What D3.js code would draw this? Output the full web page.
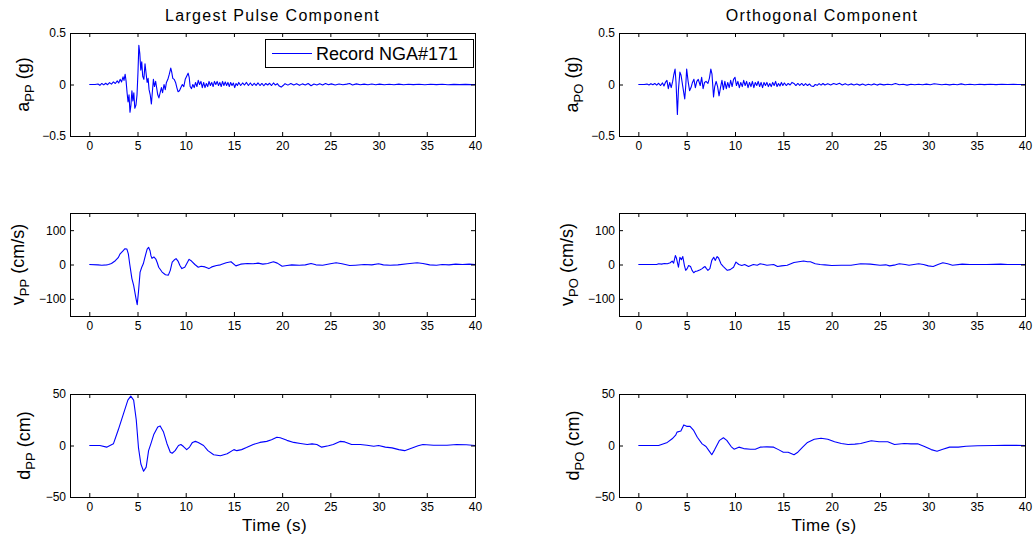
<!DOCTYPE html>
<html>
<head>
<meta charset="utf-8">
<script src="https://cdn.jsdelivr.net/npm/d3@7"></script>
<style>
  body { margin: 0; background: #fff; }
  svg { display: block; }
  text { font-family: "Liberation Sans", Arial, Helvetica, sans-serif; fill: #000; }
</style>
</head>
<body>
<script>
// time histories: [time (s), value]
const accPP = [
  [0,0],[0.6,0],[0.9,0.005],[1.1,-0.008],[1.3,0.01],[1.5,-0.004],[1.7,0.012],[1.9,-0.002],[2.1,0.018],[2.3,0.004],
  [2.5,0.025],[2.7,0.01],[2.9,0.035],[3.05,0.015],[3.2,0.05],[3.35,0.025],[3.5,0.075],[3.6,0.04],[3.72,0.1],[3.82,0.03],
  [3.92,-0.08],[4.02,-0.17],[4.12,-0.1],[4.22,-0.27],[4.32,-0.2],[4.42,-0.06],[4.52,-0.16],[4.62,-0.08],[4.72,-0.23],[4.84,-0.2],
  [4.95,-0.1],[5.05,0.12],[5.14,0.38],[5.24,0.3],[5.34,0.14],[5.44,0.22],[5.54,0.08],[5.66,0.05],[5.78,0.2],[5.9,0.1],
  [6.0,0.02],[6.1,0.06],[6.2,-0.05],[6.32,-0.1],[6.44,-0.19],[6.55,-0.06],[6.65,0.05],[6.76,-0.02],[6.88,0.03],[7.0,-0.04],
  [7.1,-0.1],[7.22,-0.13],[7.35,-0.08],[7.48,-0.03],[7.6,-0.08],[7.75,0.0],[7.88,-0.05],[8.0,0.02],[8.15,0.05],[8.3,0.1],
  [8.45,0.16],[8.55,0.12],[8.66,0.06],[8.8,0.05],[8.95,0.02],[9.08,-0.03],[9.2,-0.07],[9.35,-0.06],[9.5,-0.03],[9.65,0.0],
  [9.8,-0.02],[9.95,0.05],[10.1,0.08],[10.25,0.11],[10.36,0.07],[10.46,-0.02],[10.6,-0.04],[10.74,0.0],[10.88,-0.03],[11.02,0.02],
  [11.16,-0.02],[11.3,0.04],[11.44,0.0],[11.58,0.03],[11.72,-0.03],[11.86,0.02],[12.0,-0.03],[12.14,0.01],[12.28,-0.02],[12.42,0.03],
  [12.56,-0.01],[12.7,0.02],[12.84,-0.02],[12.98,0.03],[13.12,0.0],[13.26,0.03],[13.4,-0.01],[13.54,0.02],[13.68,-0.02],[13.82,0.03],
  [13.96,-0.01],[14.1,0.025],[14.24,-0.01],[14.38,0.02],[14.52,-0.02],[14.66,0.02],[14.8,-0.01],[14.94,0.015],[15.08,-0.03],[15.22,0.01],
  [15.36,-0.01],[15.5,0.02],[15.7,-0.01],[15.9,0.015],[16.1,-0.005],[16.3,0.02],[16.5,-0.01],[16.7,0.015],[16.9,-0.01],[17.1,0.012],
  [17.3,-0.008],[17.5,0.015],[17.7,-0.01],[17.9,0.01],[18.1,-0.012],[18.3,0.01],[18.5,-0.005],[18.7,0.012],[18.9,-0.01],[19.1,0.015],
  [19.3,-0.005],[19.5,0.008],[19.7,-0.015],[19.9,-0.025],[20.1,-0.01],[20.3,0.008],[20.6,-0.006],[20.9,0.01],[21.2,-0.005],[21.5,0.008],
  [21.8,-0.008],[22.1,0.006],[22.4,-0.005],[22.7,0.01],[23.0,-0.012],[23.3,0.004],[23.6,-0.005],[23.9,0.008],[24.2,-0.004],[24.5,0.01],
  [24.8,-0.003],[25.1,0.006],[25.5,-0.004],[25.9,0.005],[26.3,-0.003],[26.7,0.004],[27.0,0.01],[27.3,-0.004],[27.7,0.006],[28.1,-0.003],
  [28.5,0.004],[28.9,-0.002],[29.3,0.005],[29.7,-0.002],[30.1,0.004],[30.6,-0.002],[31.1,0.003],[31.6,-0.002],[32.1,0.004],[32.6,-0.002],
  [33.1,0.003],[33.6,-0.001],[34.2,0.003],[34.8,-0.002],[35.4,0.002],[36.0,-0.001],[36.6,0.002],[37.2,-0.002],[37.8,0.001],[38.4,-0.001],
  [39.0,0.001],[39.6,-0.001],[40,0]
];
const accPO = [
  [0,0],[0.6,0],[0.9,0.004],[1.1,-0.004],[1.3,0.008],[1.5,-0.003],[1.7,0.01],[1.9,-0.006],[2.1,0.012],[2.3,-0.01],
  [2.5,0.015],[2.65,-0.015],[2.8,0.02],[2.96,0.04],[3.1,-0.04],[3.25,0.02],[3.4,-0.03],[3.55,0.03],[3.66,0.09],[3.8,0.15],
  [3.9,0.02],[4.04,-0.29],[4.15,-0.05],[4.3,0.12],[4.42,0.09],[4.6,-0.02],[4.8,-0.14],[4.9,-0.02],[5.0,0.15],[5.15,0.03],
  [5.3,-0.06],[5.45,-0.03],[5.6,0.02],[5.75,0.05],[5.9,-0.03],[6.05,0.03],[6.2,0.05],[6.4,-0.01],[6.55,0.07],[6.7,-0.04],
  [6.85,0.02],[7.0,0.03],[7.2,0.01],[7.35,0.06],[7.5,0.15],[7.62,0.1],[7.78,-0.12],[7.9,-0.02],[8.05,0.03],[8.2,-0.02],
  [8.35,-0.11],[8.5,-0.03],[8.65,0.04],[8.8,-0.05],[8.95,0.03],[9.1,-0.04],[9.25,0.02],[9.4,-0.03],[9.55,0.04],[9.7,-0.02],
  [9.85,0.05],[10.0,0.07],[10.15,-0.01],[10.3,0.03],[10.45,-0.03],[10.6,0.02],[10.75,-0.02],[10.9,0.04],[11.05,-0.01],[11.2,0.03],
  [11.35,-0.03],[11.5,0.02],[11.65,-0.02],[11.8,0.03],[11.95,-0.03],[12.1,0.02],[12.25,-0.01],[12.4,0.03],[12.55,-0.02],[12.7,0.02],
  [12.85,-0.03],[13.0,0.02],[13.15,-0.01],[13.3,0.02],[13.45,-0.02],[13.6,0.01],[13.75,-0.02],[13.9,0.02],[14.05,-0.01],[14.2,0.03],
  [14.35,-0.02],[14.5,0.01],[14.65,-0.015],[14.8,0.02],[14.95,-0.01],[15.1,0.015],[15.3,-0.01],[15.5,0.01],[15.7,-0.005],[15.9,0.02],
  [16.1,0.01],[16.3,-0.01],[16.5,0.01],[16.7,-0.008],[16.9,0.01],[17.1,-0.01],[17.3,0.008],[17.5,-0.01],[17.7,0.005],[17.9,-0.015],
  [18.1,-0.02],[18.3,0.0],[18.5,-0.008],[18.7,0.008],[18.9,-0.006],[19.1,0.01],[19.3,-0.005],[19.6,0.008],[19.9,-0.004],[20.2,0.01],
  [20.5,0.0],[20.8,0.012],[21.1,-0.004],[21.4,0.008],[21.7,-0.006],[22.0,0.006],[22.3,-0.005],[22.6,0.005],[22.9,-0.006],[23.2,0.004],
  [23.5,-0.008],[23.8,0.003],[24.1,-0.004],[24.4,0.006],[24.7,-0.006],[25.0,0.004],[25.4,-0.004],[25.8,0.003],[26.2,-0.003],[26.6,0.01],
  [27.0,-0.002],[27.4,0.003],[27.8,-0.006],[28.2,0.002],[28.6,-0.003],[29.0,0.003],[29.4,-0.002],[29.8,0.004],[30.2,-0.002],[30.6,0.008],
  [31.0,0.003],[31.4,-0.002],[31.8,0.002],[32.2,-0.004],[32.6,0.002],[33.0,-0.002],[33.4,0.006],[33.8,-0.002],[34.3,0.002],[34.8,-0.002],
  [35.3,0.002],[35.8,-0.001],[36.4,0.002],[37.0,-0.001],[37.6,0.002],[38.2,0.0],[38.8,0.001],[39.4,0.0],[40,0]
];
const velPP = [
  [0,0],[0.9,-1],[1.3,-2],[1.8,-1],[2.0,0],[2.3,3],[2.7,11],[3.0,20],[3.2,31],[3.5,40],[3.7,46],[3.9,45],[4.05,31],[4.2,0],
  [4.42,-41],[4.6,-61],[4.85,-100],[4.97,-117],[5.1,-80],[5.27,-22],[5.44,-8],[5.6,2],[5.77,21],[6.0,45],[6.15,50],[6.3,40],
  [6.4,25],[6.5,18],[6.7,22],[6.9,16],[7.05,5],[7.2,-8],[7.55,-22],[7.9,-30],[8.2,-31],[8.4,-17],[8.6,7],[8.8,13],[9.0,17],
  [9.2,10],[9.4,-3],[9.6,-12],[9.9,-8],[10.1,2],[10.35,15],[10.6,10],[10.95,0],[11.3,-8],[11.6,-5],[12.0,-7],[12.4,-12],
  [12.7,-7],[13.2,-3],[13.6,-1],[14.2,5],[14.7,8],[15.2,-4],[15.7,1],[16.4,3],[17.0,2],[17.5,4],[18.0,1],[18.5,3],[19.1,8],
  [19.5,4],[20.0,-5],[20.5,-3],[21.0,-1],[21.8,-2],[22.4,-1],[23.0,3],[23.5,-1],[24.2,-2],[25.0,2],[25.6,5],[26.2,2],[27.0,-3],
  [27.6,-2],[28.5,0],[29.3,-1],[30.0,2],[30.5,-1],[31.2,-2],[32.0,-1],[33.0,2],[34.0,5],[34.6,3],[35.3,-1],[36.0,-2],[36.6,0],
  [37.3,-1],[38.0,1],[38.7,0],[39.4,1],[40,0]
];
const velPO = [
  [0,0],[1.9,0],[2.1,2],[2.4,1],[2.7,3],[3.0,2],[3.3,5],[3.5,10],[3.65,4],[3.83,26],[3.95,18],[4.15,-8],[4.3,21],[4.45,14],
  [4.6,23],[4.77,-3],[4.9,-17],[5.05,-12],[5.2,-3],[5.4,-6],[5.56,-17],[5.73,-24],[5.9,-20],[6.1,-19],[6.4,-15],[6.6,-12],
  [6.77,-8],[6.9,-6],[7.05,-12],[7.2,-17],[7.4,-12],[7.6,12],[7.8,21],[7.95,12],[8.15,23],[8.3,19],[8.55,2],[8.8,-6],[9.2,-17],
  [9.5,-15],[9.85,-8],[10.1,7],[10.4,0],[10.7,-3],[11.0,0],[11.4,-6],[11.9,0],[12.3,-2],[12.6,2],[13.0,0],[13.3,-2],[14.0,0],
  [14.4,-6],[14.8,-4],[15.4,-2],[16.1,6],[16.6,8],[17.1,10],[17.5,8],[17.8,8],[18.3,2],[18.8,0],[19.3,-1],[20.0,-3],[21.0,-2],
  [22.0,-2],[23.0,2],[24.0,1],[25.0,-2],[25.6,-1],[26.0,-4],[26.6,-1],[27.0,2],[27.6,0],[28.0,-2],[29.0,2],[29.5,0],[30.0,-4],
  [30.5,-6],[31.0,0],[31.5,5],[32.0,2],[32.5,-2],[33.5,1],[34.3,0],[35.0,0],[36.0,0],[37.5,1],[38.2,0],[40,0]
];
const dispPP = [
  [0,0],[1.1,0],[1.8,-1.6],[2.5,1.6],[3.0,15],[3.55,31],[4.0,44],[4.3,48],[4.6,44],[4.87,25],[5.1,-2],[5.35,-18],[5.63,-25],
  [5.9,-21],[6.15,-5],[6.4,2],[6.7,11],[7.1,18],[7.35,19],[7.7,13],[8.05,2],[8.4,-6.5],[8.6,-7.5],[8.9,-5],[9.25,0],[9.5,1],
  [9.77,-1],[10.1,-4],[10.4,-1.5],[10.7,3],[11.0,4],[11.3,3],[11.85,0],[12.3,-5],[12.9,-9],[13.6,-10],[14.3,-8],[15.0,-4],
  [15.3,-5],[15.8,-4],[16.3,-2],[17.0,1],[17.7,3],[18.4,4],[18.9,5.5],[19.45,8],[19.8,7.5],[20.5,5],[21.2,3],[21.9,2],[22.6,1],
  [23.1,1.6],[23.6,1],[24.1,-1.6],[24.8,-0.3],[25.3,1],[26.0,4],[26.5,3.5],[27.2,1],[28.1,1],[28.8,0.3],[29.5,-0.7],[30.0,0],
  [30.7,-1.6],[31.4,-2.3],[32.1,-4],[32.7,-5],[33.4,-2.6],[34.1,-0.3],[34.6,1],[35.7,0.3],[37.1,0.3],[38.1,1],[39.1,0.7],[40,0]
];
const dispPO = [
  [0,0],[2.1,0],[3.0,3],[3.5,6.5],[3.86,10],[4.0,13],[4.4,14],[4.7,20],[5.0,18.6],[5.35,18.6],[5.7,15],[6.1,8],[6.6,1.6],
  [7.0,-1],[7.3,-5],[7.6,-9],[7.9,-4],[8.4,5],[8.8,7.5],[9.15,5],[9.6,-1],[9.9,-3.6],[10.4,-1.6],[10.9,-3],[11.6,-3.6],
  [12.1,-3.6],[12.6,-1.6],[13.3,-1.3],[14.0,-1.6],[14.5,-4],[15.0,-6.5],[15.5,-6.5],[16.1,-9],[16.5,-6.5],[17.0,-1.6],[17.5,3],
  [18.2,6],[18.9,7],[19.6,6],[20.3,3.6],[21.0,2],[21.7,1],[22.4,1.3],[23.0,2],[24.1,4.6],[24.9,3.6],[25.8,3.6],[26.5,1],
  [27.5,2],[28.2,1.6],[28.9,1.6],[29.6,-1],[30.3,-4],[30.9,-5.5],[31.5,-3.6],[32.2,-1.6],[33.1,-1.6],[33.9,-0.7],[35.1,-0.3],
  [36.8,0],[37.9,0.3],[40,0]
];

const xTicks = [0, 5, 10, 15, 20, 25, 30, 35, 40];
const accTicks = [-0.5, 0, 0.5];
const velTicks = [-100, 0, 100];
const dispTicks = [-50, 0, 50];
const titles = ["Largest Pulse Component", "Orthogonal Component"];
const legendLabel = "Record NGA#171";

const W = 1034, H = 541;
const cols = [{x0: 70, x1: 475}, {x0: 619, x1: 1025}];
const rows = [{y0: 33, y1: 136}, {y0: 213, y1: 316}, {y0: 394, y1: 497}];

const panels = [
  {col: 0, row: 0, data: accPP,  dom: [-0.5, 0.5], ticks: accTicks,  lab: "a", sub: "PP", unit: " (g)"},
  {col: 0, row: 1, data: velPP,  dom: [-150, 150], ticks: velTicks,  lab: "v", sub: "PP", unit: " (cm/s)"},
  {col: 0, row: 2, data: dispPP, dom: [-50, 50],   ticks: dispTicks, lab: "d", sub: "PP", unit: " (cm)"},
  {col: 1, row: 0, data: accPO,  dom: [-0.5, 0.5], ticks: accTicks,  lab: "a", sub: "PO", unit: " (g)"},
  {col: 1, row: 1, data: velPO,  dom: [-150, 150], ticks: velTicks,  lab: "v", sub: "PO", unit: " (cm/s)"},
  {col: 1, row: 2, data: dispPO, dom: [-50, 50],   ticks: dispTicks, lab: "d", sub: "PO", unit: " (cm)"}
];
// ylabel baseline offset from the axes left edge (matlab puts it past the widest tick label)
const ylabOff = [41, 46, 40];

let svg = d3.select("body").append("svg")
    .attr("width", W)
    .attr("height", H);

panels.forEach(function(p) {
    let c = cols[p.col], r = rows[p.row];
    let x = d3.scaleLinear().domain([-2, 40]).range([c.x0, c.x1]);
    let y = d3.scaleLinear().domain(p.dom).range([r.y1, r.y0]);

    let g = svg.append("g");

    // data line
    g.append("path")
        .datum(p.data)
        .attr("fill", "none")
        .attr("stroke", "#0000ff")
        .attr("stroke-width", 1.1)
        .attr("stroke-linejoin", "round")
        .attr("d", d3.line().x(d => x(d[0])).y(d => y(d[1])));

    // ticks on all four sides, pointing inward
    let bottom = g.append("g")
        .attr("transform", "translate(0," + r.y1 + ")")
        .call(d3.axisBottom(x).tickValues(xTicks).tickSizeInner(-4).tickSizeOuter(0).tickPadding(5));
    let top = g.append("g")
        .attr("transform", "translate(0," + r.y0 + ")")
        .call(d3.axisTop(x).tickValues(xTicks).tickSizeInner(-4).tickSizeOuter(0).tickFormat(""));
    let left = g.append("g")
        .attr("transform", "translate(" + c.x0 + ",0)")
        .call(d3.axisLeft(y).tickValues(p.ticks).tickSizeInner(-4).tickSizeOuter(0).tickPadding(4).tickFormat(d3.format("")));
    let right = g.append("g")
        .attr("transform", "translate(" + c.x1 + ",0)")
        .call(d3.axisRight(y).tickValues(p.ticks).tickSizeInner(-4).tickSizeOuter(0).tickFormat(""));

    [bottom, top, left, right].forEach(function(a) {
        a.select(".domain").remove();
        a.selectAll("line").attr("stroke", "#000");
        a.selectAll("text")
            .attr("font-family", "Liberation Sans, Arial, sans-serif")
            .attr("font-size", 12)
            .attr("fill", "#000");
    });

    // box
    g.append("rect")
        .attr("x", c.x0 + 0.5)
        .attr("y", r.y0 + 0.5)
        .attr("width", c.x1 - c.x0)
        .attr("height", r.y1 - r.y0)
        .attr("fill", "none")
        .attr("stroke", "#000")
        .attr("stroke-width", 1);

    // y label with subscript
    let lx = c.x0 - ylabOff[p.row], ly = (r.y0 + r.y1) / 2;
    let yl = g.append("text")
        .attr("transform", "translate(" + lx + "," + ly + ") rotate(-90)")
        .attr("text-anchor", "middle")
        .attr("font-size", 18);
    yl.append("tspan").text(p.lab);
    yl.append("tspan").attr("font-size", 13).attr("dy", 5).text(p.sub);
    yl.append("tspan").attr("dy", -5).text(p.unit);

    if (p.row === 0) {
        svg.append("text")
            .attr("x", (c.x0 + c.x1) / 2)
            .attr("y", 21)
            .attr("text-anchor", "middle")
            .attr("font-size", 16)
            .attr("letter-spacing", 1.3)
            .text(titles[p.col]);
    }
    if (p.row === 2) {
        svg.append("text")
            .attr("x", (c.x0 + c.x1) / 2 + 2)
            .attr("y", 531)
            .attr("text-anchor", "middle")
            .attr("font-size", 17)
            .attr("letter-spacing", 0.4)
            .text("Time (s)");
    }
});

// legend in the first panel
let lg = svg.append("g");
lg.append("rect")
    .attr("x", 265.5).attr("y", 39.5)
    .attr("width", 208).attr("height", 28)
    .attr("fill", "#fff").attr("stroke", "#000");
lg.append("line")
    .attr("x1", 272).attr("x2", 312)
    .attr("y1", 53.5).attr("y2", 53.5)
    .attr("stroke", "#0000ff");
lg.append("text")
    .attr("x", 316).attr("y", 60)
    .attr("font-size", 18)
    .text(legendLabel);
</script>
</body>
</html>
